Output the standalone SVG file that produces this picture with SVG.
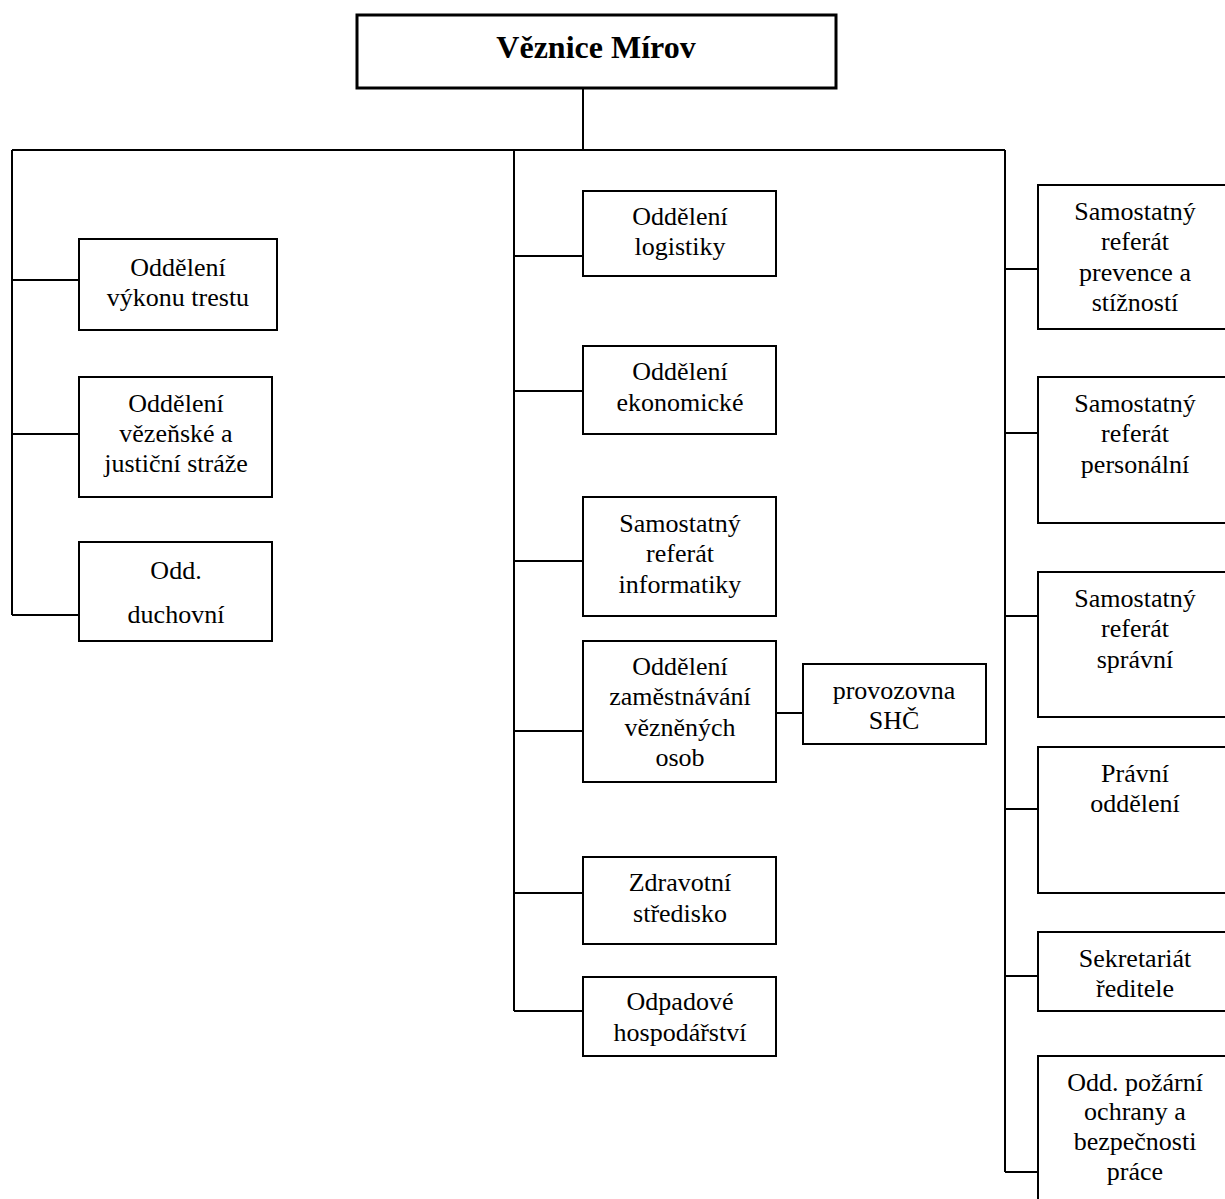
<svg xmlns="http://www.w3.org/2000/svg" width="1225" height="1199" viewBox="0 0 1225 1199">
<style>
  .box { fill: #ffffff; stroke: #000000; stroke-width: 2; }
  .hdbox { fill: #ffffff; stroke: #000000; stroke-width: 3; }
  .conn { fill: none; stroke: #000000; stroke-width: 2; }
</style>
<rect x="0" y="0" width="1225" height="1199" fill="#ffffff"/>

<g id="connectors">
  <path class="conn" d="M583 88 V150"/>
  <path class="conn" d="M12 150 H1005"/>
  <path class="conn" d="M12 150 V615"/>
  <path class="conn" d="M514 150 V1011"/>
  <path class="conn" d="M1005 150 V1172"/>
  <path class="conn" d="M12 280 H79 M12 434 H79 M12 615 H79"/>
  <path class="conn" d="M514 256 H583 M514 391 H583 M514 561 H583 M514 731 H583 M514 893 H583 M514 1011 H583"/>
  <path class="conn" d="M776 713 H803"/>
  <path class="conn" d="M1005 269 H1038 M1005 433 H1038 M1005 616 H1038 M1005 809 H1038 M1005 976 H1038 M1005 1172 H1038"/>
</g>

<g id="root">
  <rect class="hdbox" x="357" y="15" width="479" height="73"/>
  <text x="596" y="58" font-family="Liberation Serif" font-size="32" font-weight="bold" text-anchor="middle" style="font-family:'Liberation Serif',serif !important">Věznice Mírov</text>
</g>

<g font-family="Liberation Serif" font-size="26" text-anchor="middle" fill="#000000" style="font-family:'Liberation Serif',serif !important">
<g id="vykon-trestu">
  <rect class="box" x="79" y="239" width="198" height="91"/>
  <text x="178" y="276">Oddělení</text>
  <text x="178" y="306">výkonu trestu</text>
</g>
<g id="vezenska-straz">
  <rect class="box" x="79" y="377" width="193" height="120"/>
  <text x="176" y="412">Oddělení</text>
  <text x="176" y="442">vězeňské a</text>
  <text x="176" y="472">justiční stráže</text>
</g>
<g id="duchovni">
  <rect class="box" x="79" y="542" width="193" height="99"/>
  <text x="176" y="579">Odd.</text>
  <text x="176" y="623">duchovní</text>
</g>

<g id="logistika">
  <rect class="box" x="583" y="191" width="193" height="85"/>
  <text x="680" y="225">Oddělení</text>
  <text x="680" y="255">logistiky</text>
</g>
<g id="ekonomicke">
  <rect class="box" x="583" y="346" width="193" height="88"/>
  <text x="680" y="380">Oddělení</text>
  <text x="680" y="411">ekonomické</text>
</g>
<g id="informatika">
  <rect class="box" x="583" y="497" width="193" height="119"/>
  <text x="680" y="532">Samostatný</text>
  <text x="680" y="562">referát</text>
  <text x="680" y="593">informatiky</text>
</g>
<g id="zamestnavani">
  <rect class="box" x="583" y="641" width="193" height="141"/>
  <text x="680" y="675">Oddělení</text>
  <text x="680" y="705">zaměstnávání</text>
  <text x="680" y="736">vězněných</text>
  <text x="680" y="766">osob</text>
</g>
<g id="provozovna">
  <rect class="box" x="803" y="664" width="183" height="80"/>
  <text x="894" y="699">provozovna</text>
  <text x="894" y="729">SHČ</text>
</g>
<g id="zdravotni">
  <rect class="box" x="583" y="857" width="193" height="87"/>
  <text x="680" y="891">Zdravotní</text>
  <text x="680" y="922">středisko</text>
</g>
<g id="odpadove">
  <rect class="box" x="583" y="977" width="193" height="79"/>
  <text x="680" y="1010">Odpadové</text>
  <text x="680" y="1041">hospodářství</text>
</g>

<g id="prevence">
  <rect class="box" x="1038" y="185" width="194" height="144"/>
  <text x="1135" y="220">Samostatný</text>
  <text x="1135" y="250">referát</text>
  <text x="1135" y="281">prevence a</text>
  <text x="1135" y="311">stížností</text>
</g>
<g id="personalni">
  <rect class="box" x="1038" y="377" width="194" height="146"/>
  <text x="1135" y="412">Samostatný</text>
  <text x="1135" y="442">referát</text>
  <text x="1135" y="473">personální</text>
</g>
<g id="spravni">
  <rect class="box" x="1038" y="572" width="194" height="145"/>
  <text x="1135" y="607">Samostatný</text>
  <text x="1135" y="637">referát</text>
  <text x="1135" y="668">správní</text>
</g>
<g id="pravni">
  <rect class="box" x="1038" y="747" width="194" height="146"/>
  <text x="1135" y="782">Právní</text>
  <text x="1135" y="812">oddělení</text>
</g>
<g id="sekretariat">
  <rect class="box" x="1038" y="932" width="194" height="79"/>
  <text x="1135" y="967">Sekretariát</text>
  <text x="1135" y="997">ředitele</text>
</g>
<g id="pozarni">
  <rect class="box" x="1038" y="1056" width="194" height="160"/>
  <text x="1135" y="1091">Odd. požární</text>
  <text x="1135" y="1120">ochrany a</text>
  <text x="1135" y="1150">bezpečnosti</text>
  <text x="1135" y="1180">práce</text>
</g>
</g>
</svg>
